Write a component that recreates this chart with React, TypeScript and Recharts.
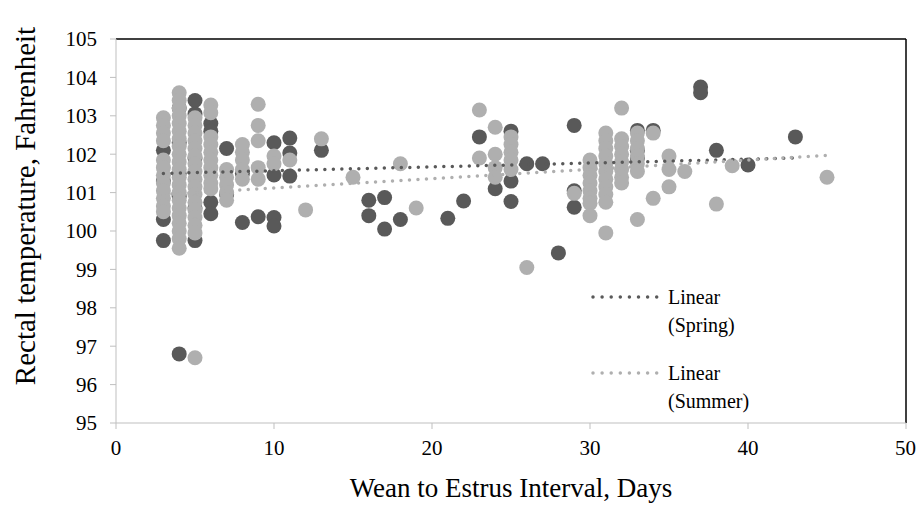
import React from 'react';
import { ComposedChart, Scatter, XAxis, YAxis, ReferenceLine } from 'recharts';

const DARK = '#595959';
const LIGHT = '#afafaf';
const FONT = '"Liberation Serif", "Times New Roman", serif';

const xTicks = [0, 10, 20, 30, 40, 50];
const yTicks = [95, 96, 97, 98, 99, 100, 101, 102, 103, 104, 105];
const xTitle = 'Wean to Estrus Interval, Days';
const yTitle = 'Rectal temperature, Fahrenheit';

// Spring: [day, temperature]
const springPoints: [number, number][] = [
  [3, 102.1], [3, 101.3], [3, 100.3], [3, 99.75],
  [4, 103.2], [4, 102.3], [4, 101.5], [4, 100.9], [4, 96.8],
  [5, 103.4], [5, 103.05], [5, 101.9], [5, 100.6], [5, 99.75],
  [6, 102.8], [6, 102.6], [6, 100.75], [6, 100.45],
  [7, 102.15], [7, 100.95],
  [8, 101.5], [8, 100.22],
  [9, 100.37],
  [10, 102.3], [10, 101.46], [10, 100.35], [10, 100.13],
  [11, 102.42], [11, 102.03], [11, 101.43],
  [13, 102.1],
  [16, 100.8], [16, 100.4],
  [17, 100.87], [17, 100.05],
  [18, 100.3],
  [21, 100.33],
  [22, 100.78],
  [23, 102.45],
  [24, 101.1],
  [25, 102.6], [25, 101.3], [25, 100.77],
  [26, 101.75],
  [27, 101.75],
  [28, 99.43],
  [29, 102.75], [29, 101.05], [29, 100.62],
  [33, 102.62], [33, 102.1], [33, 101.9],
  [34, 102.62],
  [37, 103.75], [37, 103.6],
  [38, 102.1],
  [40, 101.72],
  [43, 102.45],
];

// Summer: [day, temperature]
const summerPoints: [number, number][] = [
  [3, 102.95], [3, 102.75], [3, 102.55], [3, 102.35], [3, 101.85], [3, 101.65], [3, 101.45],
  [3, 101.25], [3, 101.05], [3, 100.85], [3, 100.65], [3, 100.5],
  [4, 103.6], [4, 103.4], [4, 103.2], [4, 103.0], [4, 102.8], [4, 102.6], [4, 102.4], [4, 102.2],
  [4, 102.0], [4, 101.8], [4, 101.6], [4, 101.4], [4, 101.2], [4, 101.0], [4, 100.8], [4, 100.6],
  [4, 100.4], [4, 100.2], [4, 100.0], [4, 99.8], [4, 99.55],
  [5, 102.95], [5, 102.75], [5, 102.55], [5, 102.35], [5, 102.15], [5, 101.95], [5, 101.75],
  [5, 101.55], [5, 101.35], [5, 101.15], [5, 100.95], [5, 100.75], [5, 100.55], [5, 100.35],
  [5, 100.15], [5, 99.95], [5, 96.7],
  [6, 103.28], [6, 103.08], [6, 102.45], [6, 102.25], [6, 102.05], [6, 101.85], [6, 101.65],
  [6, 101.45], [6, 101.25], [6, 101.1],
  [7, 101.6], [7, 101.4], [7, 101.2], [7, 101.0], [7, 100.8],
  [8, 102.25], [8, 102.05], [8, 101.85], [8, 101.6], [8, 101.35],
  [9, 103.3], [9, 102.75], [9, 102.35], [9, 101.65], [9, 101.35],
  [10, 101.95], [10, 101.75],
  [11, 101.85],
  [12, 100.55],
  [13, 102.4],
  [15, 101.4],
  [18, 101.75],
  [19, 100.6],
  [23, 103.15], [23, 101.9],
  [24, 102.7], [24, 102.0], [24, 101.65], [24, 101.4],
  [25, 102.45], [25, 102.25], [25, 102.05], [25, 101.85], [25, 101.6],
  [26, 99.05],
  [29, 100.98],
  [30, 101.85], [30, 101.65], [30, 101.45], [30, 101.25], [30, 101.05], [30, 100.85], [30, 100.72], [30, 100.4],
  [31, 102.55], [31, 102.35], [31, 102.15], [31, 101.95], [31, 101.75], [31, 101.55], [31, 101.35],
  [31, 101.15], [31, 100.95], [31, 100.75], [31, 99.95],
  [32, 103.2], [32, 102.4], [32, 102.2], [32, 102.0], [32, 101.8], [32, 101.6], [32, 101.4], [32, 101.25],
  [33, 102.55], [33, 102.35], [33, 102.15], [33, 101.95], [33, 101.75], [33, 101.55], [33, 100.3],
  [34, 102.55], [34, 100.85],
  [35, 101.95], [35, 101.6], [35, 101.15],
  [36, 101.55],
  [38, 100.7],
  [39, 101.7],
  [45, 101.4],
];

// Linear trendline end points
const springTrend: [number, number][] = [[3, 101.5], [43, 101.9]];
const summerTrend: [number, number][] = [[3, 100.95], [45, 101.97]];

const toObj = (arr: [number, number][]) => arr.map(([x, y]) => ({ x, y }));

const dot = (color: string) => (props: any) => {
  const { cx, cy } = props;
  if (cx == null || cy == null) return <g />;
  return <circle cx={cx} cy={cy} r={7.5} fill={color} />;
};

const noShape = () => <g />;

const tickStyle = { fontFamily: FONT, fontSize: 21, fill: '#000' };

const XTitle = (props: any) => {
  const vb = props.viewBox || {};
  const cx = (vb.x ?? 116) + (vb.width ?? 790) / 2;
  return (
    <text x={cx} y={497} textAnchor="middle" fontFamily={FONT} fontSize={27} fill="#000">
      {xTitle}
    </text>
  );
};

const YTitle = () => (
  <text transform="translate(35,206) rotate(-90)" x={0} y={0} textAnchor="middle"
    fontFamily={FONT} fontSize={29} fill="#000">
    {yTitle}
  </text>
);

function LegendSample({ color }: { color: string }) {
  return (
    <svg width={72} height={12} style={{ display: 'block' }}>
      <line x1={4} y1={6} x2={68} y2={6} stroke={color} strokeWidth={3.5}
        strokeDasharray="0 9.1" strokeLinecap="round" />
    </svg>
  );
}

const legendText: React.CSSProperties = {
  position: 'absolute', left: 668, fontFamily: FONT, fontSize: 20, lineHeight: '28px', color: '#000',
};

export default function App() {
  return (
    <div style={{ position: 'absolute', left: 0, top: 0, width: 916, height: 506, background: '#fff' }}>
      <ComposedChart width={916} height={506} margin={{ top: 39, right: 10, bottom: 0, left: 0 }}>
        <XAxis
          type="number"
          dataKey="x"
          domain={[0, 50]}
          ticks={xTicks}
          allowDataOverflow
          height={83}
          stroke="#bfbfbf"
          tickSize={6}
          tickMargin={11}
          tick={tickStyle}
          label={<XTitle />}
        />
        <YAxis
          type="number"
          dataKey="y"
          domain={[95, 105]}
          ticks={yTicks}
          allowDataOverflow
          width={116}
          stroke="#bfbfbf"
          tickSize={6}
          tickMargin={13}
          tick={tickStyle}
          label={<YTitle />}
        />
        <ReferenceLine y={105} stroke="#000" strokeWidth={1.5} />
        <ReferenceLine x={50} stroke="#000" strokeWidth={1.5} />
        <Scatter name="Spring" data={toObj(springPoints)} shape={dot(DARK)} isAnimationActive={false} />
        <Scatter name="Summer" data={toObj(summerPoints)} shape={dot(LIGHT)} isAnimationActive={false} />
        <Scatter
          name="Linear (Spring)"
          data={toObj(springTrend)}
          shape={noShape}
          line={{ stroke: DARK, strokeWidth: 3.5, strokeDasharray: '0 8.5', strokeLinecap: 'round' }}
          isAnimationActive={false}
        />
        <Scatter
          name="Linear (Summer)"
          data={toObj(summerTrend)}
          shape={noShape}
          line={{ stroke: LIGHT, strokeWidth: 3.5, strokeDasharray: '0 8.5', strokeLinecap: 'round' }}
          isAnimationActive={false}
        />
      </ComposedChart>
      <div style={{ position: 'absolute', left: 589, top: 291 }}>
        <LegendSample color={DARK} />
      </div>
      <div style={{ ...legendText, top: 283 }}>
        Linear<br />(Spring)
      </div>
      <div style={{ position: 'absolute', left: 589, top: 367 }}>
        <LegendSample color={LIGHT} />
      </div>
      <div style={{ ...legendText, top: 359 }}>
        Linear<br />(Summer)
      </div>
    </div>
  );
}
